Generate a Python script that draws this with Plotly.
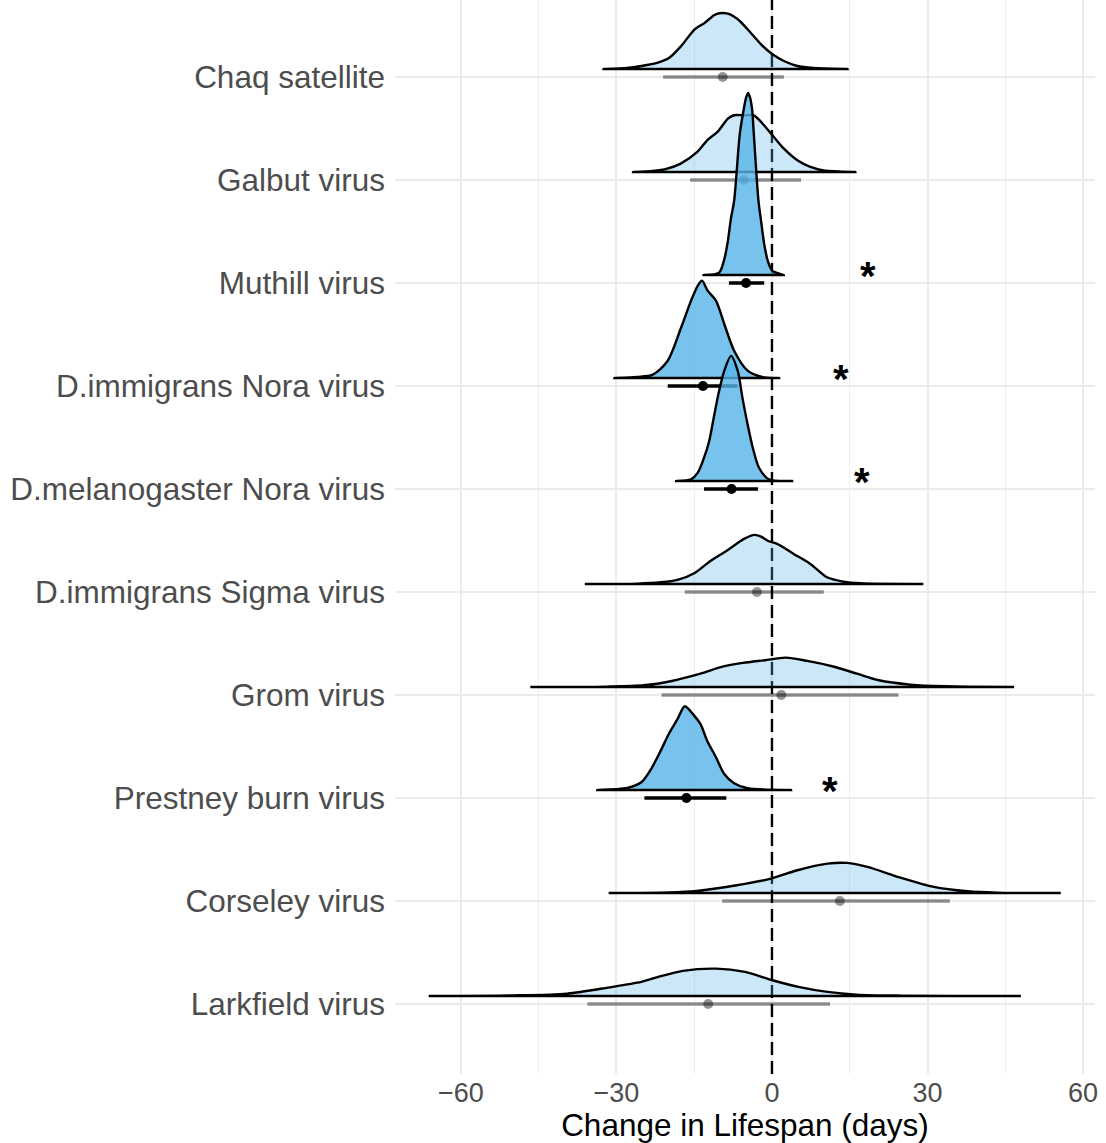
import plotly.graph_objects as go

# Viruses, top row first
viruses = ["Chaq satellite", "Galbut virus", "Muthill virus", "D.immigrans Nora virus",
           "D.melanogaster Nora virus", "D.immigrans Sigma virus", "Grom virus",
           "Prestney burn virus", "Corseley virus", "Larkfield virus"]
significant = [False, False, True, True, True, False, False, True, False, False]

# Posterior median and 95% interval of the change in lifespan (days)
point_est = [-9.5, -5.4, -5.0, -13.3, -7.8, -2.9, 1.8, -16.5, 13.1, -12.3]
lower_ci = [-21.0, -15.8, -8.3, -20.1, -13.1, -16.8, -21.3, -24.6, -9.6, -35.6]
upper_ci = [2.3, 5.6, -1.5, -6.6, -2.7, 10.0, 24.4, -8.8, 34.3, 11.2]

# Posterior densities (x in days, density per day)
chaq_x = [-32.5, -28.0, -25.2, -22.0, -19.8, -17.5, -14.9, -13.0, -11.1, -10.1, -8.5, -6.6, -4.7, -2.1, 0.1, 2.3, 4.9, 8.0, 14.6]
chaq_d = [0, .0012, .0036, .0077, .0135, .0276, .0476, .0552, .0647, .0668, .0663, .0596, .0476, .0296, .0176, .0096, .0036, .0012, 0]

galbut_x = [-26.8, -23.0, -20.2, -17.6, -14.4, -12.5, -10.5, -8.5, -7.3, -5.4, -3.5, -2.1, 0.1, 2.3, 4.9, 7.4, 10.0, 16.1]
galbut_d = [0, .0012, .0040, .0100, .0240, .0380, .0480, .0639, .0680, .0680, .0680, .0600, .0440, .0279, .0140, .0060, .0018, 0]

muthill_x = [-13.2, -10.2, -9.2, -8.5, -7.9, -7.3, -6.2, -5.5, -5.0, -4.6, -4.2, -3.8, -3.5, -2.6, -2.1, -1.5, -0.8, 0.1, 2.3]
muthill_d = [0, .0028, .0188, .0408, .0683, .0887, .1691, .1966, .2122, .2182, .2122, .1966, .1691, .0887, .0647, .0372, .0168, .0048, 0]

dimm_nora_x = [-30.4, -26.0, -23.0, -20.1, -17.5, -15.6, -14.3, -13.5, -12.4, -10.8, -9.2, -7.3, -4.7, -2.1, 1.4]
dimm_nora_d = [0, .0012, .0040, .0207, .0608, .0927, .1107, .1167, .1047, .0927, .0647, .0327, .0088, .0016, 0]

dmel_nora_x = [-18.5, -15.6, -14.3, -13.1, -12.1, -11.1, -10.2, -9.2, -7.9, -6.6, -5.7, -4.7, -3.7, -2.5, -0.6, 3.9]
dmel_nora_d = [0, .0020, .0100, .0279, .0480, .0800, .1079, .1319, .1499, .1319, .0999, .0680, .0399, .0159, .0020, 0]

sigma_x = [-36.1, -26.0, -21.4, -18.2, -15.0, -11.8, -8.5, -5.4, -3.3, -2.1, -0.6, 1.0, 4.2, 7.4, 10.6, 13.8, 17.1, 29.2]
sigma_d = [0, .0004, .0020, .0048, .0128, .0279, .0408, .0540, .0588, .0567, .0512, .0480, .0360, .0240, .0080, .0028, .0008, 0]

grom_x = [-46.6, -32.0, -24.7, -19.3, -13.8, -9.7, -5.6, -1.4, 2.7, 6.8, 11.6, 16.4, 20.6, 26.7, 33.6, 46.7]
grom_d = [0, .0004, .0020, .0072, .0159, .0240, .0288, .0320, .0351, .0312, .0248, .0159, .0080, .0028, .0008, 0]

prestney_x = [-33.7, -27.9, -25.2, -23.5, -21.6, -19.9, -18.2, -16.8, -15.0, -13.8, -12.5, -10.8, -9.2, -7.3, -4.7, 3.7]
prestney_d = [0, .0024, .0092, .0231, .0452, .0671, .0851, .1004, .0891, .0791, .0591, .0392, .0192, .0080, .0020, 0]

corseley_x = [-31.5, -20.0, -14.5, -6.8, -0.2, 4.9, 10.7, 14.5, 18.4, 24.8, 31.2, 37.7, 43.5, 55.7]
corseley_d = [0, .0006, .0024, .0092, .0171, .0272, .0351, .0360, .0312, .0183, .0072, .0020, .0004, 0]

larkfield_x = [-66.2, -50.0, -39.5, -31.6, -25.2, -21.9, -17.2, -10.8, -5.2, 0.1, 5.1, 10.7, 16.3, 25.0, 48.0]
larkfield_d = [0, .0006, .0028, .0100, .0168, .0228, .0300, .0327, .0288, .0188, .0108, .0048, .0016, .0004, 0]

density_x = [chaq_x, galbut_x, muthill_x, dimm_nora_x, dmel_nora_x, sigma_x, grom_x, prestney_x, corseley_x, larkfield_x]
density_d = [chaq_d, galbut_d, muthill_d, dimm_nora_d, dmel_nora_d, sigma_d, grom_d, prestney_d, corseley_d, larkfield_d]

x_ticks = [-60, -30, 0, 30, 60]

# Styling
DENS_SCALE = 8.1        # rows per unit density
SLAB_LIFT = 0.078       # slab baseline sits just above the interval
STAR_OFFSET = 20        # days to the right of the upper interval bound
BASE = "86,180,233"
FONT = "Liberation Sans, Arial, sans-serif"
X_RANGE = [-72.7, 62.3]
Y_RANGE = [0.32, 10.748]

n = len(viruses)
fig = go.Figure()

# dashed reference line at zero change, beneath the slabs
fig.add_trace(go.Scatter(
    x=[0, 0], y=Y_RANGE, mode="lines",
    line=dict(color="black", width=2.4, dash="13px,6px"),
    hoverinfo="skip", showlegend=False))

for i, name in enumerate(viruses):
    ypos = n - i
    base = ypos + SLAB_LIFT
    xs = list(density_x[i])
    ys = [base + d * DENS_SCALE for d in density_d[i]]
    # close the slab along its baseline
    px = xs + [xs[-1] - 0.01, xs[0] + 0.01, xs[0]]
    py = ys + [base, base, base]
    alpha = 0.8 if significant[i] else 0.3
    fig.add_trace(go.Scatter(
        x=px, y=py, mode="lines", fill="toself",
        fillcolor=f"rgba({BASE},{alpha})",
        line=dict(color="black", width=2.4, shape="spline", smoothing=0.8),
        hoverinfo="skip", showlegend=False))
    icol = "black" if significant[i] else "rgba(0,0,0,0.42)"
    fig.add_trace(go.Scatter(
        x=[lower_ci[i], upper_ci[i]], y=[ypos, ypos], mode="lines",
        line=dict(color=icol, width=3.6), hoverinfo="skip", showlegend=False))
    fig.add_trace(go.Scatter(
        x=[point_est[i]], y=[ypos], mode="markers",
        marker=dict(color=icol, size=10, line=dict(width=0)),
        hoverinfo="skip", showlegend=False))
    if significant[i]:
        fig.add_annotation(x=upper_ci[i] + STAR_OFFSET, y=ypos + 0.07, text="<b>*</b>",
                           showarrow=False, xanchor="center", yanchor="middle",
                           font=dict(family=FONT, size=40, color="black"))

fig.update_layout(
    width=1106, height=1143,
    margin=dict(l=395, r=11, t=0, b=69),
    paper_bgcolor="white", plot_bgcolor="white",
    font=dict(family=FONT, color="#4D4D4D"),
    xaxis=dict(
        range=X_RANGE, tickvals=x_ticks, ticktext=[f"{v}".replace("-", "\u2212") for v in x_ticks],
        showgrid=True, gridcolor="#EBEBEB", gridwidth=1.6, zeroline=False, showline=False,
        ticks="", ticklen=0, tickfont=dict(size=27, color="#4D4D4D"), ticklabelstandoff=0,
        minor=dict(tickvals=[-75, -45, -15, 15, 45], showgrid=True, gridcolor="#EEEEEE", gridwidth=1),
        title=dict(text="Change in Lifespan (days)", font=dict(size=31.5, color="black"), standoff=2),
    ),
    yaxis=dict(
        range=Y_RANGE, tickvals=list(range(n, 0, -1)), ticktext=viruses,
        showgrid=True, gridcolor="#EBEBEB", gridwidth=1.6, zeroline=False, showline=False,
        ticks="", ticklen=0, tickfont=dict(size=31.5, color="#4D4D4D"), ticklabelstandoff=9,
    ),
)

fig.write_html("out.html")
